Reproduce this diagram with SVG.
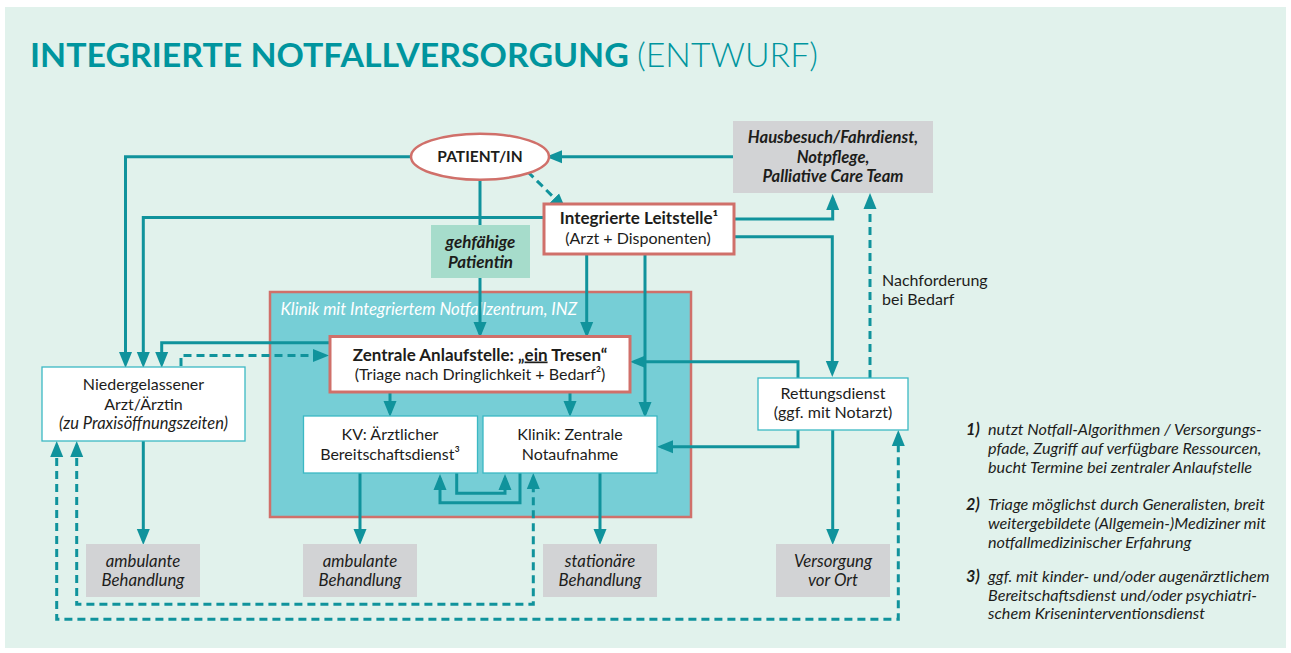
<svg xmlns="http://www.w3.org/2000/svg" width="1291" height="653" viewBox="0 0 1291 653">
<defs>
<style>
.t{font-family:Lato,"Liberation Sans",sans-serif;font-size:16px;fill:#1d1d1b}
.m{text-anchor:middle}
.b{font-weight:bold;font-size:17px}
.i{font-style:italic;font-size:16.8px}
.bi{font-style:italic;font-weight:bold;font-size:16.6px}
.fn{font-family:Lato,"Liberation Sans",sans-serif;font-size:16.2px;font-style:italic;fill:#1d1d1b}
.c{fill:none;stroke:#10939c;stroke-width:3}
.d{stroke-dasharray:8 5}
.thin{fill:#fff;stroke:#3bb8c4;stroke-width:1.3}
.red{fill:#fff;stroke:#d0706a;stroke-width:3}
.grey{fill:#d2d3d5}
</style>
<marker id="a" markerUnits="userSpaceOnUse" markerWidth="16" markerHeight="14" viewBox="0 0 16 14" refX="12" refY="7" orient="auto-start-reverse">
<path d="M0,0.5 L16,7 L0,13.5 z" fill="#10939c"/>
</marker>
</defs>
<rect x="5" y="7" width="1281" height="641" fill="#e1f2ec"/>
<g id="title">
<text x="30" y="67" font-family="Lato,'Liberation Sans',sans-serif" font-size="33" font-weight="bold" fill="#00959e" textLength="788" lengthAdjust="spacingAndGlyphs">INTEGRIERTE NOTFALLVERSORGUNG <tspan font-weight="300">(ENTWURF)</tspan></text>
</g>
<g id="klinik">
<rect x="270" y="292" width="421" height="225" fill="#76ced6" stroke="#d0706a" stroke-width="2.5"/>
<text class="t i" x="280.5" y="315" style="fill:#fff">Klinik mit Integriertem Notfallzentrum, INZ</text>
</g>
<g id="connectors">
<path class="c" marker-end="url(#a)" d="M411,156.7 H125.5 V364"/>
<path class="c" marker-end="url(#a)" d="M543,217.5 H143.3 V364"/>
<path class="c" marker-end="url(#a)" d="M331,342.7 H161.7 V364"/>
<path class="c d" marker-end="url(#a)" d="M181,366 V355.5 H325"/>
<path class="c" marker-end="url(#a)" d="M480,180 V334"/>
<path class="c" marker-end="url(#a)" d="M586.7,255 V334"/>
<path class="c" marker-end="url(#a)" d="M645,255 V414"/>
<path class="c" marker-end="url(#a)" d="M733,156.7 H550"/>
<path class="c d" marker-end="url(#a)" d="M527.7,171.7 L563,206.5"/>
<path class="c" marker-end="url(#a)" d="M734,219 H832.7 V198"/>
<path class="c" marker-end="url(#a)" d="M734,236.7 H832.3 V373"/>
<path class="c d" marker-end="url(#a)" d="M870,378 V197"/>
<path class="c" marker-end="url(#a)" d="M798,378 V361.7 H634"/>
<path class="c" marker-end="url(#a)" d="M798,430 V446.7 H661"/>
<path class="c" marker-end="url(#a)" d="M832.7,430 V541"/>
<path class="c" marker-end="url(#a)" d="M143.3,441 V541"/>
<path class="c" marker-end="url(#a)" d="M390,392 V413"/>
<path class="c" marker-end="url(#a)" d="M570,392 V413"/>
<path class="c" marker-end="url(#a)" d="M456.7,473 V493.3 H505 V478"/>
<path class="c" marker-end="url(#a)" d="M520,473 V502.7 H440 V478"/>
<path class="c" marker-end="url(#a)" d="M360,473 V541"/>
<path class="c" marker-end="url(#a)" d="M600,473 V541"/>
<path class="c d" marker-start="url(#a)" marker-end="url(#a)" d="M76.7,445 V604.3 H533.3 V477"/>
<path class="c d" marker-start="url(#a)" marker-end="url(#a)" d="M56.7,445 V619.3 H898.3 V434"/>
</g>
<g id="patient">
<ellipse cx="480" cy="156.7" rx="69" ry="23" fill="#fff" stroke="#d0706a" stroke-width="2.5"/>
<text class="t m b" x="480" y="162" style="font-size:15.5px">PATIENT/IN</text>
</g>
<g id="leitstelle">
<rect class="red" x="544" y="204" width="190" height="50"/>
<text class="t m b" x="639" y="224">Integrierte Leitstelle¹</text>
<text class="t m" x="638" y="244">(Arzt + Disponenten)</text>
</g>
<g id="gehfaehig">
<rect x="431" y="225" width="99" height="53" fill="#a6dccb"/>
<text class="t m bi" x="480.5" y="248" style="font-size:17px">gehfähige</text>
<text class="t m bi" x="480.5" y="268" style="font-size:17px">Patientin</text>
</g>
<g id="hausbesuch">
<rect class="grey" x="733" y="121" width="200" height="72"/>
<text class="t m bi" x="833" y="143">Hausbesuch/Fahrdienst,</text>
<text class="t m bi" x="833" y="162.5">Notpflege,</text>
<text class="t m bi" x="833" y="181.5">Palliative Care Team</text>
</g>
<g id="nachforderung">
<text class="t" x="882" y="285.5">Nachforderung</text>
<text class="t" x="882" y="305">bei Bedarf</text>
</g>
<g id="niedergelassener">
<rect class="thin" x="42" y="367" width="203" height="74"/>
<text class="t m" x="143.5" y="390">Niedergelassener</text>
<text class="t m" x="143.5" y="409.5">Arzt/Ärztin</text>
<text class="t m i" x="143.5" y="428.5" style="font-size:16.5px">(zu Praxisöffnungszeiten)</text>
</g>
<g id="zentrale">
<rect class="red" x="330" y="336.5" width="300" height="55.5"/>
<text class="t m b" x="480" y="360.5">Zentrale Anlaufstelle: „<tspan text-decoration="underline">ein</tspan> Tresen“</text>
<text class="t m" x="480" y="380">(Triage nach Dringlichkeit + Bedarf²)</text>
</g>
<g id="kv">
<rect class="thin" x="303.5" y="416" width="174" height="57"/>
<text class="t m" x="390" y="440">KV: Ärztlicher</text>
<text class="t m" x="390" y="460">Bereitschaftsdienst³</text>
</g>
<g id="notaufnahme">
<rect class="thin" x="483" y="416" width="174" height="57"/>
<text class="t m" x="570" y="440">Klinik: Zentrale</text>
<text class="t m" x="570" y="460">Notaufnahme</text>
</g>
<g id="rettungsdienst">
<rect class="thin" x="758" y="378" width="150" height="52"/>
<text class="t m" x="833" y="399">Rettungsdienst</text>
<text class="t m" x="833" y="418.3">(ggf. mit Notarzt)</text>
</g>
<g id="ambulant1">
<rect class="grey" x="86" y="544" width="114" height="53"/>
<text class="t m i" x="143" y="566.5">ambulante</text>
<text class="t m i" x="143" y="585.5">Behandlung</text>
</g>
<g id="ambulant2">
<rect class="grey" x="303" y="544" width="114" height="53"/>
<text class="t m i" x="360" y="566.5">ambulante</text>
<text class="t m i" x="360" y="585.5">Behandlung</text>
</g>
<g id="stationaer">
<rect class="grey" x="543" y="544" width="114" height="53"/>
<text class="t m i" x="600" y="566.5">stationäre</text>
<text class="t m i" x="600" y="585.5">Behandlung</text>
</g>
<g id="versorgung">
<rect class="grey" x="776" y="544" width="114" height="53"/>
<text class="t m i" x="833" y="566.5">Versorgung</text>
<text class="t m i" x="833" y="585.5">vor Ort</text>
</g>
<g id="footnotes">
<text class="fn" x="966" y="435" font-weight="bold">1)</text>
<text class="fn" x="988" y="435">nutzt Notfall-Algorithmen / Versorgungs-</text>
<text class="fn" x="988" y="454.3">pfade, Zugriff auf verfügbare Ressourcen,</text>
<text class="fn" x="988" y="473.3">bucht Termine bei zentraler Anlaufstelle</text>
<text class="fn" x="966" y="510" font-weight="bold">2)</text>
<text class="fn" x="988" y="510">Triage möglichst durch Generalisten, breit</text>
<text class="fn" x="988" y="529">weitergebildete (Allgemein-)Mediziner mit</text>
<text class="fn" x="988" y="547.7">notfallmedizinischer Erfahrung</text>
<text class="fn" x="966" y="581.7" font-weight="bold">3)</text>
<text class="fn" x="988" y="581.7">ggf. mit kinder- und/oder augenärztlichem</text>
<text class="fn" x="988" y="600.7">Bereitschaftsdienst und/oder psychiatri-</text>
<text class="fn" x="988" y="619.3">schem Kriseninterventionsdienst</text>
</g>
</svg>
